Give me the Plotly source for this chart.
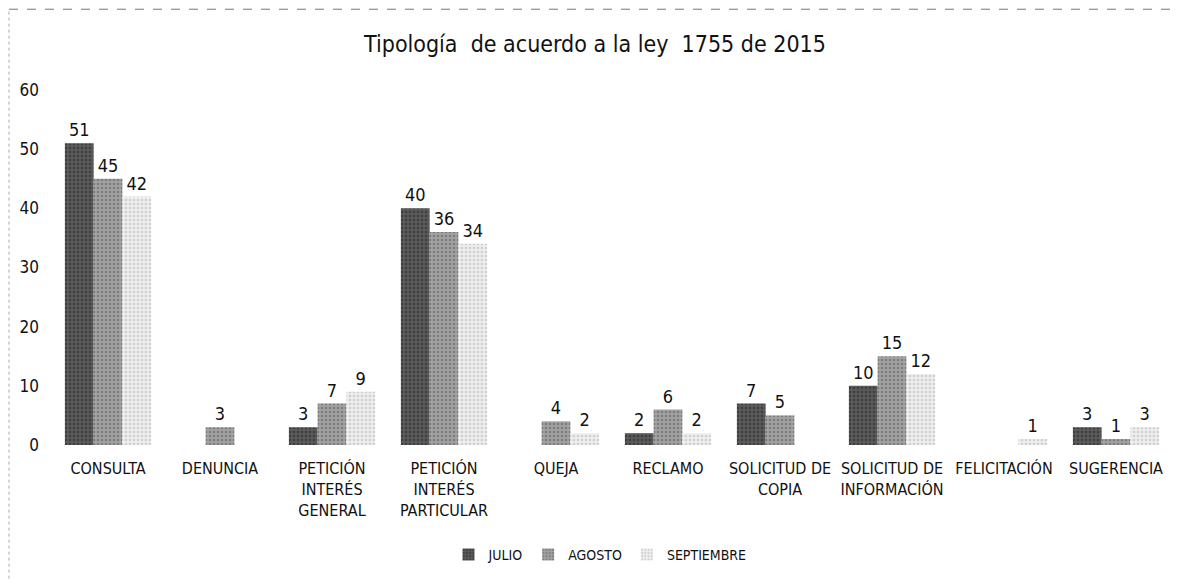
import plotly.graph_objects as go

categories = ["CONSULTA", "DENUNCIA", "PETICIÓN<br>INTERÉS<br>GENERAL", "PETICIÓN<br>INTERÉS<br>PARTICULAR",
              "QUEJA", "RECLAMO", "SOLICITUD DE<br>COPIA", "SOLICITUD DE<br>INFORMACIÓN",
              "FELICITACIÓN", "SUGERENCIA"]
julio = [51, 0, 3, 40, 0, 2, 7, 10, 0, 3]
agosto = [45, 3, 7, 36, 4, 6, 5, 15, 0, 1]
septiembre = [42, 0, 9, 34, 2, 2, 0, 12, 1, 3]
y_ticks = [0, 10, 20, 30, 40, 50, 60]

FONT = "DejaVu Sans Condensed, Liberation Sans Narrow, Arial Narrow, sans-serif"

series = [
    ("JULIO", julio, "#5a5a5a", "#222222"),
    ("AGOSTO", agosto, "#a2a2a2", "#555555"),
    ("SEPTIEMBRE", septiembre, "#eeeeee", "#b0b0b0"),
]

W, H = 1174, 572
L, R, T, B = 44, 10, 82, 134
PW, PH = W - L - R, H - T - B

fig = go.Figure()
for name, vals, bg, fg in series:
    fig.add_trace(go.Bar(
        name=name, x=categories, y=vals,
        text=[str(v) if v else "" for v in vals],
        textposition="outside", constraintext="none", cliponaxis=False,
        textfont=dict(family=FONT, size=18, color="#111"),
        marker=dict(color=bg, line=dict(width=0),
                    pattern=dict(shape=".", bgcolor=bg, fgcolor=fg, size=4, solidity=0.35)),
    ))

fig.update_layout(
    width=W, height=H,
    margin=dict(l=L, r=R, t=T, b=B),
    paper_bgcolor="white", plot_bgcolor="white",
    barmode="group", bargap=0.23, bargroupgap=0,
    font=dict(family=FONT, size=16, color="#111"),
    title=dict(text="Tipología  de acuerdo a la ley  1755 de 2015", x=(587 - L) / PW,
               xref="paper", xanchor="center",
               y=1 - 36 / H, yanchor="middle",
               font=dict(family=FONT, size=23, color="#111")),
    showlegend=True,
    legend=dict(orientation="h", x=(592 - L) / PW, xanchor="center", y=-(547 - T - PH) / PH, yanchor="middle",
                font=dict(family=FONT, size=14, color="#111"), itemwidth=30, traceorder="normal"),
    xaxis=dict(showline=False, showgrid=False, ticks="", tickfont=dict(family=FONT, size=16, color="#111"),
               tickangle=0, ticklabelstandoff=12),
    yaxis=dict(range=[0, 60], tickvals=y_ticks, showgrid=False, showline=False, zeroline=False,
               ticks="", ticklabelstandoff=12, tickfont=dict(family=FONT, size=17, color="#111")),
)

fig.add_shape(type="line", xref="paper", yref="paper", x0=-(L - 1) / PW, x1=1 + (R - 1) / PW,
              y0=1 + (T - 1) / PH, y1=1 + (T - 1) / PH,
              line=dict(color="#777", width=1, dash="dash"))
fig.add_shape(type="line", xref="paper", yref="paper", x0=-(L - 1) / PW, x1=-(L - 1) / PW,
              y0=-B / PH, y1=1 + (T - 1) / PH,
              line=dict(color="#aaa", width=1, dash="dot"))

fig.write_html("out.html")
